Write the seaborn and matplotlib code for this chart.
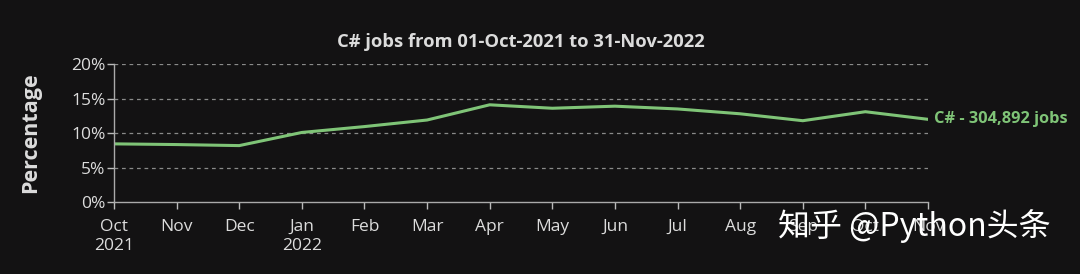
import matplotlib
matplotlib.use("Agg")
import matplotlib.pyplot as plt
import seaborn as sns
import pandas as pd

months = ["Oct\n2021", "Nov", "Dec", "Jan\n2022", "Feb", "Mar", "Apr", "May",
          "Jun", "Jul", "Aug", "Sep", "Oct", "Nov"]
percent = [8.45, 8.35, 8.2, 10.1, 10.95, 11.9, 14.1, 13.6, 13.9, 13.5, 12.8, 11.8, 13.1, 12.0]
yticks = [0, 5, 10, 15, 20]
ytick_labels = ["0%", "5%", "10%", "15%", "20%"]

BG = "#131213"
FG = "#dcdcdc"
GREEN = "#7fc477"

sns.set_theme(style="dark")
plt.rcParams["font.family"] = ["Open Sans", "Noto Sans CJK SC", "DejaVu Sans"]

df = pd.DataFrame({"idx": range(len(months)), "pct": percent})

fig = plt.figure(figsize=(10.8, 2.74), dpi=100, facecolor=BG)
ax = fig.add_axes([114/1080, 1 - 202.3/274, (928-114)/1080, (202.3-64)/274])
ax.set_facecolor(BG)

sns.lineplot(data=df, x="idx", y="pct", ax=ax, color=GREEN, linewidth=2.2)

ax.set_xlim(0, len(months) - 1)
ax.set_ylim(0, 20)
ax.set_yticks(yticks)
ax.set_yticklabels(ytick_labels)
ax.set_xticks(range(len(months)))
ax.set_xticklabels(months, linespacing=1.25)
ax.tick_params(axis="both", colors="#bbbbbb", labelcolor=FG, labelsize=12.5,
               length=5, width=1, direction="out", bottom=True, left=True)
ax.tick_params(axis="x", pad=7)
ax.tick_params(axis="y", pad=1)

ax.grid(False)
for y in yticks[1:]:
    ax.axhline(y, color="#8a8a8a", linestyle=(0, (3, 3)), linewidth=0.9, zorder=0)

for s in ["top", "right"]:
    ax.spines[s].set_visible(False)
for s in ["left", "bottom"]:
    ax.spines[s].set_visible(True)
    ax.spines[s].set_color("#aaaaaa")
    ax.spines[s].set_linewidth(1)

ax.set_xlabel("")
ax.set_ylabel("Percentage", color=FG, fontsize=15.5, fontweight="bold", labelpad=22)
ax.set_title("C# jobs from 01-Oct-2021 to 31-Nov-2022", color=FG, fontsize=13.2,
             fontweight="bold", pad=12)

ax.annotate("C# - 304,892 jobs", xy=(len(months) - 1, percent[-1]),
            xytext=(4, 0), textcoords="offset points", va="center", ha="left",
            color=GREEN, fontsize=11.8, fontweight="bold", annotation_clip=False)

fig.text(778/1080, 1 - 226/274, "知乎 @Python头条", color="white", fontsize=23,
         va="center", ha="left", family=["Noto Sans CJK SC", "DejaVu Sans"])

fig.savefig("out.png", dpi=100, facecolor=BG)
